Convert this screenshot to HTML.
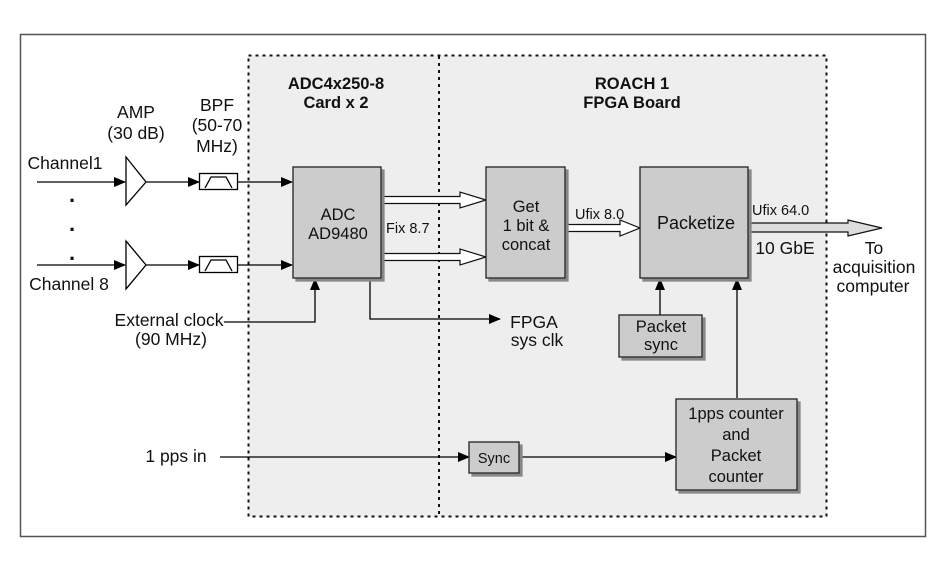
<!DOCTYPE html>
<html><head><meta charset="utf-8"><style>
body{margin:0;background:#fff}
svg{display:block}
text{font-family:"Liberation Sans",sans-serif;fill:#111}
</style></head><body>
<svg width="945" height="567" viewBox="0 0 945 567" xmlns="http://www.w3.org/2000/svg">
<defs>
<marker id="a" markerWidth="12" markerHeight="10" refX="11" refY="5" orient="auto" markerUnits="userSpaceOnUse"><path d="M0,0 L12,5 L0,10 z" fill="#000"/></marker>
<filter id="sh" x="-10%" y="-10%" width="130%" height="130%"><feOffset dx="3" dy="3" in="SourceAlpha" result="o"/><feFlood flood-color="#888"/><feComposite in2="o" operator="in"/><feMerge><feMergeNode/><feMergeNode in="SourceGraphic"/></feMerge></filter>
</defs>
<rect x="20.5" y="34.5" width="905" height="502" fill="#fff" stroke="#555" stroke-width="1.5"/>
<rect x="248.5" y="55.5" width="578" height="461" fill="#eeeeee" stroke="#111" stroke-width="2" stroke-dasharray="3,4"/>
<line x1="439" y1="56" x2="439" y2="516" stroke="#111" stroke-width="2" stroke-dasharray="3,4"/>
<g font-weight="bold" font-size="16.5" text-anchor="middle">
<text x="336" y="89">ADC4x250-8</text><text x="336" y="108">Card x 2</text>
<text x="632" y="89">ROACH 1</text><text x="632" y="108">FPGA Board</text>
</g>
<g font-size="17.5" text-anchor="middle">
<text x="136" y="118">AMP</text><text x="136" y="139">(30 dB)</text>
<text x="217" y="111">BPF</text><text x="217" y="131">(50-70</text><text x="217" y="152">MHz)</text>
<text x="65" y="169">Channel1</text><text x="69" y="290">Channel 8</text>
<text x="169" y="326">External clock</text><text x="171" y="345">(90 MHz)</text>
<text x="176" y="462">1 pps in</text>
<text x="534" y="328">FPGA</text><text x="537" y="346">sys clk</text>
<text x="874" y="254">To</text><text x="874" y="273">acquisition</text><text x="873" y="292">computer</text>
<text x="785" y="254">10 GbE</text>
</g>
<g font-size="22" font-weight="bold" text-anchor="middle"><text x="72" y="202">.</text><text x="72" y="231">.</text><text x="72" y="260">.</text></g>
<g stroke="#000" stroke-width="1.3" fill="none">
<line x1="37" y1="182" x2="125" y2="182" marker-end="url(#a)"/>
<line x1="37" y1="265" x2="125" y2="265" marker-end="url(#a)"/>
<path d="M126,157 L146,182 L126,205 z" fill="#fff"/>
<path d="M126,241 L146,265 L126,289 z" fill="#fff"/>
<line x1="146" y1="182" x2="199" y2="182" marker-end="url(#a)"/>
<line x1="146" y1="265" x2="199" y2="265" marker-end="url(#a)"/>
<rect x="199.5" y="173.5" width="38" height="16" fill="#fff"/>
<path d="M205,188 L211,177 L226,177 L232,188"/>
<rect x="199.5" y="256.5" width="38" height="16" fill="#fff"/>
<path d="M205,271 L211,260 L226,260 L232,271"/>
<line x1="237" y1="182" x2="292" y2="182" marker-end="url(#a)"/>
<line x1="237" y1="265" x2="292" y2="265" marker-end="url(#a)"/>
<path d="M224,322 L315,322 L315,279" marker-end="url(#a)"/>
<path d="M370,279 L370,319 L500,319" marker-end="url(#a)"/>
<line x1="220" y1="457" x2="469" y2="457" marker-end="url(#a)"/>
<line x1="520" y1="457" x2="676" y2="457" marker-end="url(#a)"/>
<line x1="660" y1="315" x2="660" y2="279" marker-end="url(#a)"/>
<line x1="737" y1="398" x2="737" y2="279" marker-end="url(#a)"/>
</g>
<g stroke="#111" stroke-width="1.2" fill="#fff">
<path d="M382,196.5 L460,196.5 L460,192 L486,200 L460,208 L460,203.5 L382,203.5 z"/>
<path d="M382,253.5 L460,253.5 L460,249 L486,257 L460,265 L460,260.5 L382,260.5 z"/>
<path d="M566,224.5 L620,224.5 L620,220 L640,228 L620,236 L620,231.5 L566,231.5 z"/>
<path d="M749,223 L848,223 L848,220 L882,228 L848,236 L848,232 L749,232 z" fill="#ddd"/>
</g>
<g fill="#cccccc" stroke="#222" stroke-width="1.3" filter="url(#sh)">
<rect x="293" y="167" width="88" height="111"/>
<rect x="486" y="167" width="79" height="111"/>
<rect x="640" y="167" width="108" height="111"/>
<rect x="619" y="315" width="83" height="42"/>
<rect x="676" y="399" width="121" height="91"/>
<rect x="469" y="442" width="50" height="31"/>
</g>
<g font-size="16.5" text-anchor="middle">
<text x="338" y="220">ADC</text><text x="338" y="239">AD9480</text>
<text x="526" y="212">Get</text><text x="526" y="231">1 bit &amp;</text><text x="526" y="250">concat</text>
<text x="696" y="229" font-size="18">Packetize</text>
<text x="661" y="332">Packet</text><text x="661" y="350">sync</text>
<text x="736" y="419">1pps counter</text><text x="736" y="440">and</text><text x="736" y="461">Packet</text><text x="736" y="482">counter</text>
<text x="494" y="463" font-size="14.5">Sync</text>
</g>
<g font-size="14.5">
<text x="386" y="233">Fix 8.7</text>
<text x="575" y="219">Ufix 8.0</text>
<text x="752" y="215">Ufix 64.0</text>
</g>
</svg>
</body></html>
